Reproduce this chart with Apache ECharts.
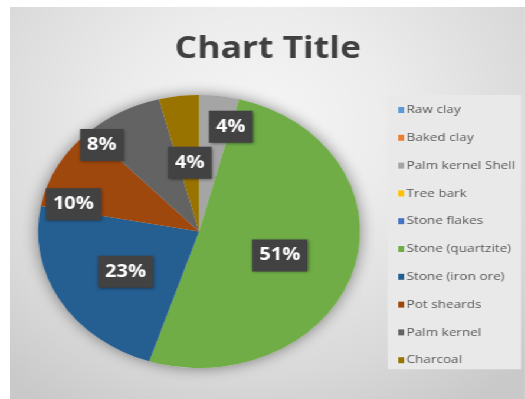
<!DOCTYPE html>
<html>
<head>
<meta charset="utf-8">
<script src="https://cdn.jsdelivr.net/npm/echarts@6/dist/echarts.min.js"></script>
<style>
html,body{margin:0;padding:0;background:#ffffff;width:525px;height:399px;overflow:hidden;}
#wrap{position:absolute;left:10px;top:7px;width:437px;height:392px;transform:scaleX(1.18);transform-origin:0 0;
background:radial-gradient(ellipse 75% 85% at 48% 30%, #f6f6f6 0%, #ececec 35%, #d9d9d9 75%, #c9c9c9 100%);}
#chart{width:437px;height:392px;}
</style>
</head>
<body>
<div id="wrap"><div id="chart"></div></div>
<script>
var categories = ['Raw clay','Baked clay','Palm kernel Shell','Tree bark','Stone flakes','Stone (quartzite)','Stone (iron ore)','Pot sheards','Palm kernel','Charcoal'];
var values = [0, 0, 4, 0, 0, 51, 23, 10, 8, 4];
var colors = ['#5B9BD5','#ED7D31','#A5A5A5','#FFC000','#4472C4','#70AD47','#255E91','#9E480E','#636363','#997300'];
var chartTitle = 'Chart Title';

var labelOffsets = [[0,0],[0,0],[18,-34],[0,0],[0,0],[0,4],[-1,4],[-44,7],[-48,-24],[1,2]];
var total = values.reduce(function(a,b){return a+b;},0);

var chart = echarts.init(document.getElementById('chart'), null, {renderer:'canvas'});
chart.setOption({
  animation:false,
  color: colors,
  title:{text:chartTitle,left:'center',top:22,textStyle:{fontFamily:'Open Sans',fontWeight:'bold',fontSize:30,color:'#404040'}},
  legend:{
    orient:'vertical',left:320,top:88,
    data:categories,
    padding:[8,5,2,9],
    backgroundColor:'#e9e9e9',
    itemWidth:5,itemHeight:6,itemGap:13.8,
    icon:'rect',
    textStyle:{fontFamily:'Open Sans',fontSize:11.5,color:'#595959',lineHeight:14,padding:[0,0,0,-3]},
    selectedMode:false
  },
  series:[
    {
      type:'pie',silent:true,center:[160.2,224.5],radius:[0,136.5],
      data:[{value:total,name:'__bg'}],
      label:{show:false},labelLine:{show:false},
      itemStyle:{color:'#d8d8d8',shadowBlur:14,shadowColor:'rgba(0,0,0,0.45)'},
      legendHoverLink:false,z:1
    },
    {
      type:'pie',center:[160.2,224.5],radius:[0,136.5],startAngle:90,clockwise:true,
      z:2,
      data:categories.map(function(c,i){
        var d={name:c,value:values[i]};
        if(values[i]===0){d.label={show:false};}
        return d;
      }),
      label:{show:true,position:'inside',formatter:'{d}%',
        fontFamily:'Open Sans',fontWeight:'bold',fontSize:17,color:'#ffffff',lineHeight:20,
        backgroundColor:'#424242',padding:[6,6,6,6],
        shadowBlur:3,shadowColor:'rgba(0,0,0,0.45)',shadowOffsetX:1,shadowOffsetY:1},
      labelLine:{show:false},
      labelLayout:function(p){var o=labelOffsets[p.dataIndex]||[0,0];return {dx:o[0],dy:o[1]};},
      itemStyle:{borderWidth:0}
    }
  ]
});
</script>
</body>
</html>
